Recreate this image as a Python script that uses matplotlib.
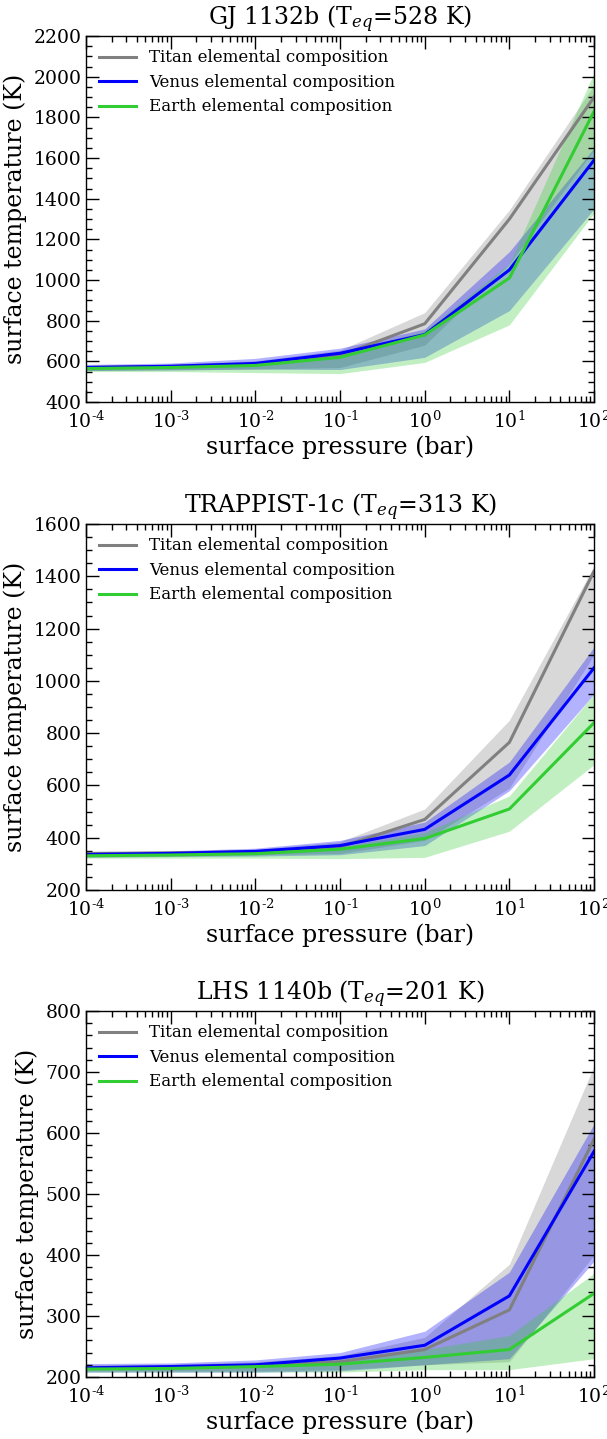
import numpy as np
import matplotlib
matplotlib.use("Agg")
import matplotlib.pyplot as plt
from matplotlib.ticker import LogLocator, MultipleLocator, FuncFormatter

plt.rcParams['font.family'] = 'DejaVu Serif'
plt.rcParams['mathtext.fontset'] = 'dejavuserif'
plt.rcParams['xtick.direction'] = 'in'
plt.rcParams['ytick.direction'] = 'in'
plt.rcParams['xtick.top'] = True
plt.rcParams['ytick.right'] = True

# surface pressure grid (bar)
pressure = [1e-4, 1e-3, 1e-2, 1e-1, 1e0, 1e1, 1e2]

# GJ 1132b
gj_titan = [570, 575, 585, 630, 785, 1300, 1900]
gj_titan_lo = [555, 558, 562, 570, 680, 1080, 1640]
gj_titan_hi = [582, 587, 603, 655, 840, 1345, 1960]
gj_venus = [570, 576, 590, 640, 732, 1050, 1590]
gj_venus_lo = [555, 558, 562, 560, 620, 850, 1350]
gj_venus_hi = [585, 592, 615, 665, 760, 1140, 1650]
gj_earth = [565, 570, 580, 620, 730, 1010, 1830]
gj_earth_lo = [550, 550, 545, 540, 595, 780, 1330]
gj_earth_hi = [575, 580, 595, 640, 750, 1080, 2020]

# TRAPPIST-1c
tr_titan = [340, 342, 346, 365, 470, 765, 1420]
tr_titan_lo = [330, 332, 335, 340, 390, 590, 1100]
tr_titan_hi = [346, 349, 356, 385, 510, 850, 1440]
tr_venus = [336, 340, 348, 370, 432, 640, 1050]
tr_venus_lo = [325, 328, 330, 335, 370, 580, 950]
tr_venus_hi = [345, 350, 360, 390, 460, 690, 1130]
tr_earth = [331, 334, 339, 356, 397, 510, 840]
tr_earth_lo = [322, 322, 322, 320, 325, 425, 680]
tr_earth_hi = [340, 343, 348, 365, 420, 560, 950]

# LHS 1140b
lhs_titan = [215, 216, 218, 225, 245, 310, 590]
lhs_titan_lo = [210, 210, 210, 212, 220, 225, 400]
lhs_titan_hi = [220, 221, 225, 235, 265, 385, 710]
lhs_venus = [215, 217, 220, 231, 252, 333, 570]
lhs_venus_lo = [208, 208, 208, 210, 220, 230, 390]
lhs_venus_hi = [222, 223, 228, 240, 275, 372, 615]
lhs_earth = [213, 214, 217, 221, 232, 245, 337]
lhs_earth_lo = [208, 208, 208, 208, 212, 212, 230]
lhs_earth_hi = [218, 219, 222, 228, 245, 268, 370]

titles = [r'GJ 1132b (T$_{eq}$=528 K)', r'TRAPPIST-1c (T$_{eq}$=313 K)', r'LHS 1140b (T$_{eq}$=201 K)']
ylims = [(400, 2200), (200, 1600), (200, 800)]
ymajor = [200, 200, 100]
yminor = [50, 50, 20]

panels = [
    [(gj_titan, gj_titan_lo, gj_titan_hi), (gj_venus, gj_venus_lo, gj_venus_hi), (gj_earth, gj_earth_lo, gj_earth_hi)],
    [(tr_titan, tr_titan_lo, tr_titan_hi), (tr_venus, tr_venus_lo, tr_venus_hi), (tr_earth, tr_earth_lo, tr_earth_hi)],
    [(lhs_titan, lhs_titan_lo, lhs_titan_hi), (lhs_venus, lhs_venus_lo, lhs_venus_hi), (lhs_earth, lhs_earth_lo, lhs_earth_hi)],
]
names = ['Titan elemental composition', 'Venus elemental composition', 'Earth elemental composition']
colors = ['gray', 'blue', 'limegreen']


def pow_label(v, pos):
    e = int(round(np.log10(v)))
    if e < 0:
        return r'$10^{\text{-}%d}$' % (-e)
    return r'$10^{%d}$' % e


fig = plt.figure(figsize=(6.07, 14.39), dpi=100)
bottoms = [0.7206, 0.3815, 0.0431]

for i in range(3):
    ax = fig.add_axes([0.1417, bottoms[i], 0.837, 0.2543])
    for (mid, lo, hi), c in zip(panels[i], colors):
        ax.fill_between(pressure, lo, hi, color=c, alpha=0.3, linewidth=0)
    for (mid, lo, hi), c, n in zip(panels[i], colors, names):
        ax.plot(pressure, mid, color=c, lw=2.2, label=n)
    ax.set_xscale('log')
    ax.set_xlim(1e-4, 1e2)
    ax.set_ylim(*ylims[i])
    ax.xaxis.set_major_locator(LogLocator(base=10, numticks=10))
    ax.xaxis.set_minor_locator(LogLocator(base=10, subs=np.arange(2, 10), numticks=10))
    ax.xaxis.set_major_formatter(FuncFormatter(pow_label))
    ax.yaxis.set_major_locator(MultipleLocator(ymajor[i]))
    ax.yaxis.set_minor_locator(MultipleLocator(yminor[i]))
    ax.tick_params(which='major', length=9, width=1, labelsize=13.5, pad=3)
    ax.tick_params(axis='x', which='major', pad=6)
    ax.tick_params(which='minor', length=4.5, width=1)
    for s in ax.spines.values():
        s.set_linewidth(1)
    ax.set_title(titles[i], fontsize=17, pad=8)
    ax.set_xlabel('surface pressure (bar)', fontsize=17, labelpad=3)
    ax.set_ylabel('surface temperature (K)', fontsize=17, labelpad=5)
    ax.legend(loc='upper left', frameon=False, fontsize=12, handlelength=2.2,
              labelspacing=0.45, borderaxespad=0.4)

fig.savefig('out.png', dpi=100)
